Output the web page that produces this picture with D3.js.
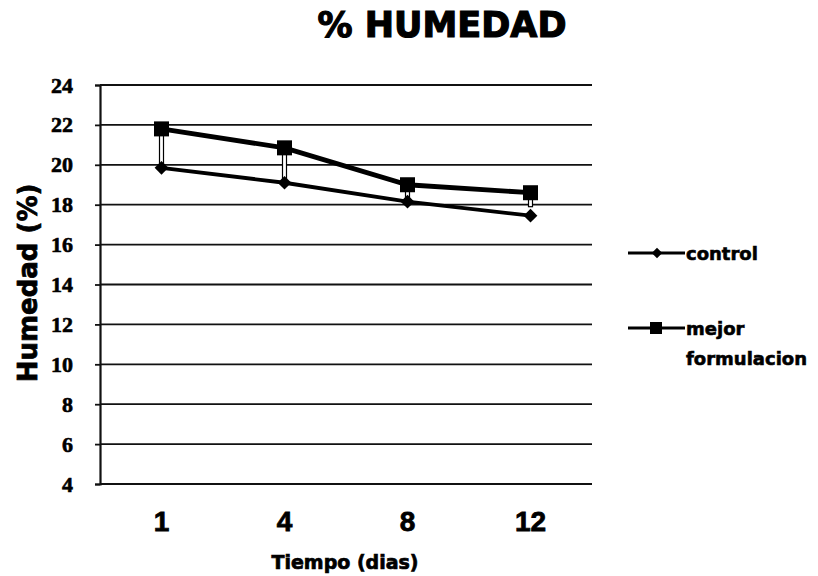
<!DOCTYPE html>
<html>
<head>
<meta charset="utf-8">
<script src="https://cdn.jsdelivr.net/npm/d3@7/dist/d3.min.js"></script>
<style>
  html, body { margin: 0; padding: 0; background: #fff; }
  svg { display: block; }
</style>
</head>
<body>
<svg id="chart" width="818" height="576"></svg>
<script>
// Humidity (%) over storage time for the control and the best formulation
const days = ["1", "4", "8", "12"];
const control = [19.85, 19.1, 18.15, 17.45];
const mejor = [21.8, 20.85, 19.0, 18.6];
const mejorErr = [1.95, 1.75, 0.75, 0.7];
const yTicks = [4, 6, 8, 10, 12, 14, 16, 18, 20, 22, 24];

const svg = d3.select("#chart");
const plotLeft = 100, plotRight = 592, plotTop = 85, plotBottom = 484;

const x = d3.scaleBand().domain(days).range([plotLeft, plotRight]);
const y = d3.scaleLinear().domain([4, 24]).range([plotBottom, plotTop]);
const cx = d => x(d) + x.bandwidth() / 2;

// Heavy black lettering
const heavy = (sel, w) => sel.attr("fill", "#000").attr("stroke", "#000").attr("stroke-width", w);

// Title
svg.append("text")
  .attr("x", 442).attr("y", 37)
  .attr("text-anchor", "middle")
  .style("font-family", "'DejaVu Sans', sans-serif")
  .style("font-weight", "bold")
  .style("font-size", "35px")
  .call(heavy, 1.2)
  .text("% HUMEDAD");

// Horizontal gridlines
svg.append("g")
  .selectAll("line")
  .data(yTicks)
  .join("line")
  .attr("x1", plotLeft).attr("x2", plotRight)
  .attr("y1", d => y(d)).attr("y2", d => y(d))
  .attr("stroke", "#111")
  .attr("stroke-width", 1.8);

// Y axis with outer tick marks
const yAxis = d3.axisLeft(y).tickValues(yTicks).tickSize(5).tickPadding(22);
const gy = svg.append("g").attr("transform", `translate(${plotLeft},0)`).call(yAxis);
gy.select(".domain").attr("stroke", "#111").attr("stroke-width", 2.2);
gy.selectAll(".tick line").attr("stroke", "#111").attr("stroke-width", 1.8);
gy.selectAll(".tick text")
  .call(heavy, 0.6)
  .style("font-family", "'Liberation Serif', 'Times New Roman', serif")
  .style("font-weight", "bold")
  .style("font-size", "22px");

// X axis labels (no axis line)
const xAxis = d3.axisBottom(x).tickSize(0).tickPadding(0);
const gx = svg.append("g").attr("transform", `translate(0,${plotBottom})`).call(xAxis);
gx.select(".domain").remove();
gx.selectAll(".tick text")
  .attr("dy", null)
  .attr("y", 47)
  .call(heavy, 0.8)
  .style("font-family", "'Liberation Sans', Arial, sans-serif")
  .style("font-weight", "bold")
  .style("font-size", "28px");

// Axis titles
svg.append("text")
  .attr("x", 345).attr("y", 569)
  .attr("text-anchor", "middle")
  .style("font-family", "'DejaVu Sans', sans-serif")
  .style("font-weight", "bold")
  .style("font-size", "19px")
  .call(heavy, 0.7)
  .text("Tiempo (dias)");

svg.append("text")
  .attr("transform", "translate(37,283) rotate(-90)")
  .attr("text-anchor", "middle")
  .style("font-family", "'DejaVu Sans', sans-serif")
  .style("font-weight", "bold")
  .style("font-size", "26px")
  .call(heavy, 0.8)
  .text("Humedad (%)");

// Error bars of the best formulation (downward)
svg.append("g")
  .selectAll("rect")
  .data(days.map((d, i) => ({ d, v: mejor[i], e: mejorErr[i] })))
  .join("rect")
  .attr("x", p => cx(p.d) - 2)
  .attr("y", p => y(p.v))
  .attr("width", 4)
  .attr("height", p => y(p.v - p.e) - y(p.v))
  .attr("fill", "#fff")
  .attr("stroke", "#000")
  .attr("stroke-width", 1.2);

const line = d3.line().x((v, i) => cx(days[i])).y(v => y(v));

// Control series
svg.append("path")
  .datum(control)
  .attr("d", line)
  .attr("fill", "none")
  .attr("stroke", "#000")
  .attr("stroke-width", 3.8);

const diamond = d3.symbol().type(d3.symbolDiamond2).size(120);
svg.append("g")
  .selectAll("path")
  .data(control)
  .join("path")
  .attr("transform", (v, i) => `translate(${cx(days[i])},${y(v)})`)
  .attr("d", diamond)
  .attr("fill", "#000");

// Best formulation series
svg.append("path")
  .datum(mejor)
  .attr("d", line)
  .attr("fill", "none")
  .attr("stroke", "#000")
  .attr("stroke-width", 4.8);

svg.append("g")
  .selectAll("rect")
  .data(mejor)
  .join("rect")
  .attr("x", (v, i) => cx(days[i]) - 7.5)
  .attr("y", v => y(v) - 7.5)
  .attr("width", 15).attr("height", 15)
  .attr("fill", "#000");

// Legend
const legend = svg.append("g")
  .style("font-family", "'DejaVu Sans', sans-serif")
  .style("font-weight", "bold")
  .style("font-size", "18px");

legend.append("line")
  .attr("x1", 628).attr("x2", 685).attr("y1", 253).attr("y2", 253)
  .attr("stroke", "#000").attr("stroke-width", 3);
legend.append("path")
  .attr("transform", "translate(657,253)")
  .attr("d", d3.symbol().type(d3.symbolDiamond2).size(70))
  .attr("fill", "#000");
legend.append("text").attr("x", 686).attr("y", 260).call(heavy, 0.6).text("control");

legend.append("line")
  .attr("x1", 628).attr("x2", 685).attr("y1", 328).attr("y2", 328)
  .attr("stroke", "#000").attr("stroke-width", 3);
legend.append("rect")
  .attr("x", 650).attr("y", 322).attr("width", 12).attr("height", 12)
  .attr("fill", "#000");
legend.append("text").attr("x", 686).attr("y", 335).call(heavy, 0.6).text("mejor");
legend.append("text").attr("x", 686).attr("y", 365).call(heavy, 0.6).text("formulacion");
</script>
</body>
</html>
